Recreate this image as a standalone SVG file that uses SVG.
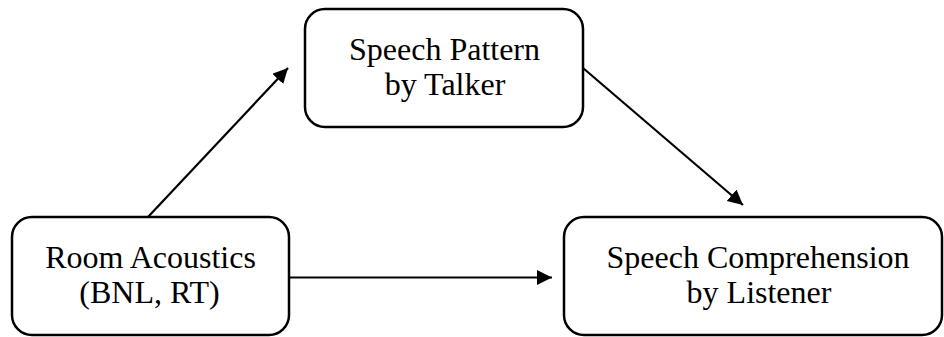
<svg xmlns="http://www.w3.org/2000/svg" width="944" height="337" viewBox="0 0 944 337">
<style>
.box{fill:#fff;stroke:#000;stroke-width:2.5}
.lbl{font-family:"Liberation Serif","Times New Roman",serif;font-size:32px;fill:#000;text-anchor:middle}
.conn{stroke:#000;stroke-width:2.2;fill:none;marker-end:url(#ah)}
</style>
<defs>
<marker id="ah" markerUnits="userSpaceOnUse" markerWidth="16" markerHeight="16" refX="15" refY="7.5" orient="auto">
<path d="M0,0 L15,7.5 L0,15 z" fill="#000"/>
</marker>
</defs>
<rect width="944" height="337" fill="#fff"/>
<g id="connectors">
<line class="conn" x1="148" y1="217" x2="288" y2="68"/>
<line class="conn" x1="583" y1="68" x2="743" y2="205"/>
<line class="conn" x1="289" y1="277.5" x2="552" y2="277.5"/>
</g>
<g id="room">
<rect class="box" x="12" y="217" width="277" height="118" rx="20"/>
<text class="lbl" x="150.5" y="268">Room Acoustics</text>
<text class="lbl" x="149.5" y="303">(BNL, RT)</text>
</g>
<g id="pattern">
<rect class="box" x="305" y="9" width="278" height="118" rx="20"/>
<text class="lbl" x="444.5" y="60">Speech Pattern</text>
<text class="lbl" x="445" y="95">by Talker</text>
</g>
<g id="comprehension">
<rect class="box" x="564" y="217" width="378" height="118" rx="20"/>
<text class="lbl" x="758" y="268">Speech Comprehension</text>
<text class="lbl" x="759" y="303">by Listener</text>
</g>
</svg>
